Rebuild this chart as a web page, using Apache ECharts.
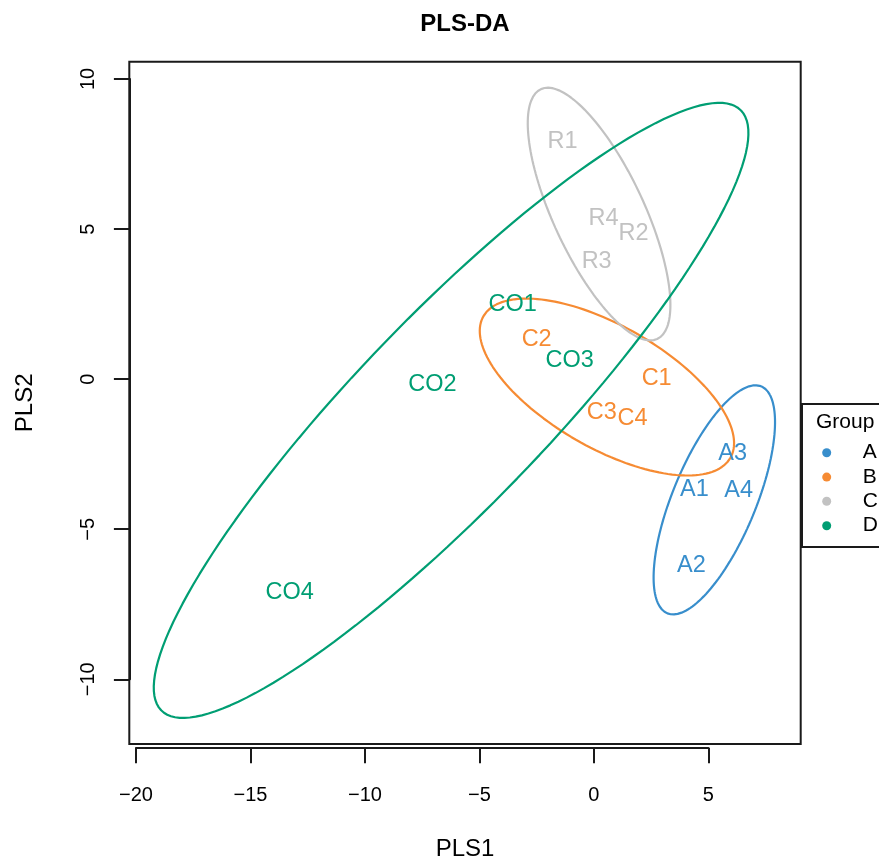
<!DOCTYPE html>
<html>
<head>
<meta charset="utf-8">
<script src="https://cdn.jsdelivr.net/npm/echarts@6/dist/echarts.min.js"></script>
<style>
  html, body { margin: 0; padding: 0; background: #fff; }
  #chart { width: 879px; height: 866px; }
</style>
</head>
<body>
<div id="chart"></div>
<script>
const groups = ['A', 'B', 'C', 'D'];
const groupColors = ['#388ECC', '#F68B33', '#C2C2C2', '#009E73'];

// sample scores: [label, PLS1, PLS2]
const samplesA = [['A1', 4.39, -3.76], ['A2', 4.26, -6.29], ['A3', 6.06, -2.56], ['A4', 6.32, -3.79]];
const samplesB = [['C1', 2.74, -0.03], ['C2', -2.50, 1.27], ['C3', 0.34, -1.16], ['C4', 1.69, -1.36]];
const samplesC = [['R1', -1.37, 7.91], ['R2', 1.73, 4.81], ['R3', 0.12, 3.87], ['R4', 0.42, 5.31]];
const samplesD = [['CO1', -3.55, 2.44], ['CO2', -7.05, -0.23], ['CO3', -1.06, 0.57], ['CO4', -13.29, -7.19]];
const samplesByGroup = [samplesA, samplesB, samplesC, samplesD];

const xRange = [-20.29, 9.03];
const yRange = [-12.28, 10.58];
const xTickRange = [-20, 5];
const yTickRange = [-10, 10];
const tickStep = 5;

const FONT = '"Liberation Sans", Arial, Helvetica, sans-serif';
const INK = '#1a1a1a';
const CHI2_95 = 5.991; // qchisq(0.95, df = 2)

// 95% normal confidence ellipse of a group, same construction as ellipse::ellipse()
function ellipsePoints(samples, n = 160) {
  const xs = samples.map(s => s[1]);
  const ys = samples.map(s => s[2]);
  const mean = arr => arr.reduce((p, c) => p + c, 0) / arr.length;
  const mx = mean(xs), my = mean(ys);
  let sxx = 0, syy = 0, sxy = 0;
  for (let i = 0; i < xs.length; i++) {
    sxx += (xs[i] - mx) ** 2;
    syy += (ys[i] - my) ** 2;
    sxy += (xs[i] - mx) * (ys[i] - my);
  }
  const k = xs.length - 1;
  sxx /= k; syy /= k; sxy /= k;
  const a = Math.acos(sxy / Math.sqrt(sxx * syy));
  const t = Math.sqrt(CHI2_95);
  const pts = [];
  for (let i = 0; i <= n; i++) {
    const d = 2 * Math.PI * i / n;
    pts.push([
      mx + t * Math.sqrt(sxx) * Math.cos(d + a / 2),
      my + t * Math.sqrt(syy) * Math.cos(d - a / 2)
    ]);
  }
  return pts;
}

const minusFmt = v => String(v).replace('-', '\u2212');

const ellipseSeries = groups.map((g, i) => ({
  name: g,
  type: 'line',
  xAxisIndex: 0,
  yAxisIndex: 0,
  data: ellipsePoints(samplesByGroup[i]),
  showSymbol: false,
  silent: true,
  lineStyle: { color: groupColors[i], width: 2.2 },
  z: 2
}));

const labelSeries = groups.map((g, i) => ({
  name: g,
  type: 'scatter',
  xAxisIndex: 0,
  yAxisIndex: 0,
  symbolSize: 0,
  data: samplesByGroup[i].map(s => ({ name: s[0], value: [s[1], s[2]] })),
  itemStyle: { color: groupColors[i], opacity: 1 },
  label: {
    show: true,
    position: 'inside',
    formatter: '{b}',
    color: groupColors[i],
    fontFamily: FONT,
    fontSize: 23.5
  },
  z: 3
}));

// hand-built legend box (R style): dot column + letter column
const legendLeft = 802, legendTop = 404;
const legendRowY = [452.7, 477.1, 501.3, 525.7];
const legendGraphics = [
  {
    type: 'rect',
    shape: { x: legendLeft, y: legendTop, width: 120, height: 143 },
    style: { fill: '#fff', stroke: INK, lineWidth: 2 },
    z: 10
  },
  {
    type: 'text',
    x: 816,
    y: 422.3,
    style: { text: 'Group', fontFamily: FONT, fontSize: 21, fill: '#000', verticalAlign: 'middle' },
    z: 11
  }
];
groups.forEach((g, i) => {
  legendGraphics.push({
    type: 'circle',
    shape: { cx: 826.7, cy: legendRowY[i], r: 4.5 },
    style: { fill: groupColors[i] },
    z: 11
  });
  legendGraphics.push({
    type: 'text',
    x: 862.7,
    y: legendRowY[i],
    style: { text: g, fontFamily: FONT, fontSize: 21, fill: '#000', verticalAlign: 'middle' },
    z: 11
  });
});

const chart = echarts.init(document.getElementById('chart'));
chart.setOption({
  animation: false,
  backgroundColor: '#fff',
  title: {
    text: 'PLS-DA',
    left: 465,
    top: 12,
    textAlign: 'center',
    padding: 0,
    textStyle: { fontFamily: FONT, fontSize: 24, fontWeight: 'bold', color: '#000' }
  },
  grid: [
    { left: 129.3, top: 61.7, width: 671.4, height: 686, show: true, borderColor: INK, borderWidth: 2 },
    { left: 136, top: 79, width: 572.3, height: 600.3 }
  ],
  xAxis: [
    {
      gridIndex: 0, type: 'value', min: xRange[0], max: xRange[1],
      axisLine: { show: false }, axisTick: { show: false }, axisLabel: { show: false }, splitLine: { show: false },
      name: 'PLS1', nameLocation: 'middle', nameGap: 93,
      nameTextStyle: { fontFamily: FONT, fontSize: 24, color: '#000' }
    },
    {
      gridIndex: 1, type: 'value', min: xTickRange[0], max: xTickRange[1], interval: tickStep,
      position: 'bottom', offset: 68.4,
      axisLine: { onZero: false, lineStyle: { color: INK, width: 2 } },
      axisTick: { length: 15.6, lineStyle: { color: INK, width: 2 } },
      axisLabel: { margin: 38, fontFamily: FONT, fontSize: 20, color: '#000', formatter: minusFmt },
      splitLine: { show: false }
    }
  ],
  yAxis: [
    {
      gridIndex: 0, type: 'value', min: yRange[0], max: yRange[1],
      axisLine: { show: false }, axisTick: { show: false }, axisLabel: { show: false }, splitLine: { show: false },
      name: 'PLS2', nameLocation: 'middle', nameGap: 92,
      nameTextStyle: { fontFamily: FONT, fontSize: 24, color: '#000' }
    },
    {
      gridIndex: 1, type: 'value', min: yTickRange[0], max: yTickRange[1], interval: tickStep,
      position: 'left', offset: 6.7,
      axisLine: { onZero: false, lineStyle: { color: INK, width: 2 } },
      axisTick: { length: 15.4, lineStyle: { color: INK, width: 2 } },
      axisLabel: { margin: 31, rotate: 90, fontFamily: FONT, fontSize: 20, color: '#000', formatter: minusFmt },
      splitLine: { show: false }
    }
  ],
  graphic: legendGraphics,
  series: [...ellipseSeries, ...labelSeries]
});
</script>
</body>
</html>
